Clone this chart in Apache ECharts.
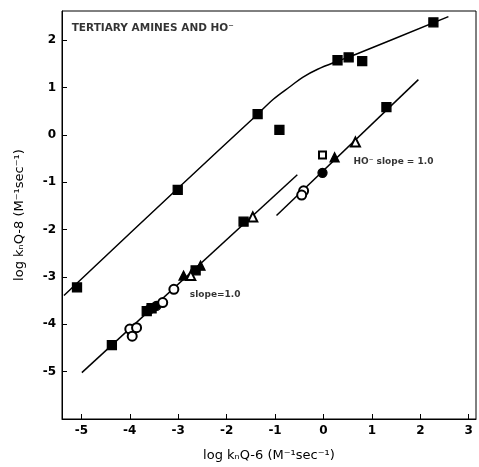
<!DOCTYPE html>
<html><head><meta charset="utf-8">
<script src="https://cdn.jsdelivr.net/npm/echarts@6/dist/echarts.min.js"></script>
<style>html,body{margin:0;padding:0;background:#fff}#c{width:479px;height:467px}</style>
</head><body><div id="c"></div>
<script>
// tick labels
var xTicks = [-5, -4, -3, -2, -1, 0, 1, 2, 3];
var yTicks = [-5, -4, -3, -2, -1, 0, 1, 2];
// data (log kn Q-6, log kn Q-8)
var filledSquares = [[-5.09,-3.22],[-3.01,-1.16],[-1.36,0.44],[-0.91,0.11],[0.29,1.58],[0.52,1.64],[0.80,1.56],[2.27,2.38],
  [-4.37,-4.44],[-3.65,-3.72],[-3.55,-3.66],[-2.64,-2.86],[-1.65,-1.83],[1.30,0.59]];
var filledCircles = [[-3.60,-3.69],[-3.45,-3.61],[-0.02,-0.80]];
var openCircles = [[-4.00,-4.10],[-3.86,-4.07],[-3.95,-4.25],[-3.32,-3.54],[-3.09,-3.26],[-0.41,-1.18],[-0.45,-1.27]];
var filledTriangles = [[-2.89,-2.97],[-2.54,-2.76],[0.23,-0.47]];
var openTriangles = [[-2.74,-2.97],[-1.46,-1.73],[0.66,-0.15]];
var openSquares = [[-0.02,-0.42]];
// fitted curves
var upperCurve = [[-5.36,-3.39],[-3.01,-1.13],[-1.36,0.44],[-1.03,0.76],[-0.68,1.03],[-0.43,1.22],[-0.12,1.39],[0.29,1.56],[0.66,1.70],[2.58,2.50]];
var slopeLine = [[-4.99,-5.02],[-0.54,-0.84]];
var hoLine = [[-0.97,-1.70],[1.96,1.17]];
// annotations
var notes = [
  {name:'TERTIARY AMINES AND HO\u207B', value:[-5.20,2.26], size:10.5},
  {name:'HO\u207B slope = 1.0', value:[0.62,-0.57], size:9},
  {name:'slope=1.0', value:[-2.76,-3.38], size:9}
];

var F = 'DejaVu Sans, Liberation Sans, sans-serif';
var chart = echarts.init(document.getElementById('c'));
function pts(name, data, symbol, size) {
  return {name:name, type:'scatter', data:data, symbol:symbol, symbolSize:size, z:5,
    itemStyle:{color:'#000', borderColor:'#000', borderWidth:1.3, opacity:1}};
}
function ln(data, smooth) {
  return {type:'line', data:data, symbol:'none', smooth:smooth, z:2, silent:true,
    lineStyle:{color:'#000', width:1.5}};
}
chart.setOption({
  animation:false,
  backgroundColor:'#fff',
  grid:{left:62, right:3, top:11, bottom:45, show:true, borderColor:'#000', borderWidth:1},
  xAxis:{type:'value', min:-5.4, max:3.15,
    name:'log k\u2099Q-6 (M\u207B\u00B9sec\u207B\u00B9)', nameLocation:'middle', nameGap:30,
    nameTextStyle:{fontFamily:F, fontSize:13, color:'#000'},
    axisLine:{onZero:false, lineStyle:{color:'#000', width:1}},
    axisTick:{inside:true, length:5, customValues:xTicks, lineStyle:{color:'#000'}},
    axisLabel:{customValues:xTicks, fontFamily:F, fontSize:12, fontWeight:'bold', color:'#000', margin:6},
    splitLine:{show:false}},
  yAxis:{type:'value', min:-6, max:2.62,
    name:'log k\u2099Q-8 (M\u207B\u00B9sec\u207B\u00B9)', nameLocation:'middle', nameGap:36,
    nameTextStyle:{fontFamily:F, fontSize:13, color:'#000'},
    axisLine:{onZero:false, lineStyle:{color:'#000', width:1}},
    axisTick:{inside:true, length:5, customValues:yTicks, lineStyle:{color:'#000'}},
    axisLabel:{customValues:yTicks, fontFamily:F, fontSize:12, fontWeight:'bold', color:'#000', margin:6},
    splitLine:{show:false}},
  series:[
    ln(upperCurve, 0.35), ln(slopeLine, false), ln(hoLine, false),
    pts('fs', filledSquares, 'rect', 9),
    pts('fc', filledCircles, 'circle', 9),
    pts('oc', openCircles, 'emptyCircle', 9),
    pts('ft', filledTriangles, 'triangle', 9),
    pts('ot', openTriangles, 'emptyTriangle', 9),
    pts('os', openSquares, 'emptyRect', 7),
    {type:'scatter', data:notes.map(function(n){return {name:n.name, value:n.value,
        label:{fontSize:n.size}};}), symbolSize:0, z:6, silent:true,
      label:{show:true, position:'right', distance:0, formatter:'{b}', fontFamily:F, fontWeight:'bold', color:'#000'}}
  ]
});
</script></body></html>
